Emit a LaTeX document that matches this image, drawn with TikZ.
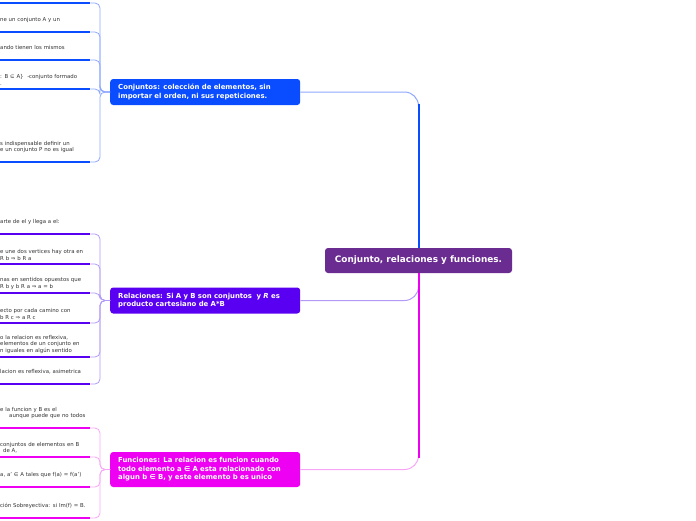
\documentclass[tikz,border=0pt]{standalone}
\usepackage{fontspec}
\setmainfont{DejaVu Sans}

\definecolor{rootc}{HTML}{6A2C91}
\definecolor{conjc}{HTML}{0A4CFF}
\definecolor{conjl}{HTML}{8FA8FF}
\definecolor{relc}{HTML}{5A00F2}
\definecolor{rell}{HTML}{B39AF7}
\definecolor{func}{HTML}{EE00F2}
\definecolor{funl}{HTML}{F7A6F7}

\begin{document}
\begin{tikzpicture}[
    x=1pt, y=-1pt,
    root/.style={fill=rootc, text=white, rounded corners=3pt,
      font=\fontsize{8.9}{10}\selectfont\bfseries,
      minimum width=187pt, minimum height=25pt, inner sep=0pt},
    branch/.style={rounded corners=3pt, text=white, anchor=west,
      font=\fontsize{6.9}{8.6}\selectfont\bfseries, align=left,
      text width=174pt, inner xsep=8pt, inner ysep=4pt, minimum height=26pt},
    leaf/.style={font=\fontsize{5.4}{6.7}\selectfont, text=black!80, align=left,
      anchor=south west, text width=90pt, inner xsep=0pt, inner ysep=3.2pt},
    uline/.style={line width=2.6pt},
    brack/.style={line width=0.8pt, rounded corners=5pt},
    link/.style={line width=1pt, rounded corners=14pt},
    trunk/.style={line width=2pt}
  ]
    \clip (0,0) rectangle (696,520);
    \node[root] (ctr) at (418.5,260.5) {Conjunto, relaciones y funciones.};
    \node[branch, fill=conjc] (conj) at (110,92) {Conjuntos: colección de elementos, sin\\importar el orden, ni sus repeticiones.};
    \node[branch, fill=relc] (rel) at (110,300.5) {Relaciones: Si A y B son conjuntos \ y \textit{R} es\\producto cartesiano de A*B};
    \node[branch, fill=func, minimum height=35pt] (fun) at (110,469.5) {Funciones: La relacion es funcion cuando\\todo elemento a ∈ A esta relacionado con\\algun b ∈ B, y este elemento b es unico};
    % conjuntos
    \node[leaf] (c1) at (0,3) {};
    \node[leaf] (c2) at (0,32) {ne un conjunto A y un\\\mbox{}};
    \node[leaf] (c3) at (0,60) {ando tienen los mismos\\\mbox{}};
    \node[leaf] (c4) at (0,89) {: B ⊆ A\}~ -conjunto formado\\.};
    \node[leaf] (c5) at (0,162) {s indispensable definir un\\e un conjunto P no es igual\\\mbox{}};
    % relaciones
    \node[leaf] (r1) at (0,234) {arte de el y llega a el:\\\mbox{}};
    \node[leaf] (r2) at (0,264) {e une dos vertices hay otra en\\R b ⇒ b R a};
    \node[leaf] (r3) at (0,293) {nas en sentidos opuestos que\\R b y b R a ⇒ a = b};
    \node[leaf] (r4) at (0,323) {ecto por cada camino con\\b R c ⇒ a R c};
    \node[leaf] (r5) at (0,357) {o la relacion es reflexiva,\\elementos de un conjunto en\\n iguales en algún sentido};
    \node[leaf] (r6) at (0,384) {lacion es reflexiva, asimetrica\\\mbox{}};
    % funciones
    \node[leaf] (f1) at (0,428) {e la funcion y B es el\\\hspace*{9pt}aunque puede que no todos\\\mbox{}};
    \node[leaf] (f2) at (0,457) {conjuntos de elementos en B\\\hspace*{3pt}de A,};
    \node[leaf] (f3) at (0,487) {a, a' ∈ A tales que f(a) = f(a')\\\mbox{}};
    \node[leaf] (f4) at (0,518) {ción Sobreyectiva: si Im(f) = B.\\\mbox{}};

    \draw[uline, conjc] (c1.south west) -- (c1.south east);
    \draw[brack, conjl] (c1.south east) -| ([xshift=-10pt]conj.west) -- (conj.west);
    \draw[uline, conjc] (c2.south west) -- (c2.south east);
    \draw[brack, conjl] (c2.south east) -| ([xshift=-10pt]conj.west) -- (conj.west);
    \draw[uline, conjc] (c3.south west) -- (c3.south east);
    \draw[brack, conjl] (c3.south east) -| ([xshift=-10pt]conj.west) -- (conj.west);
    \draw[uline, conjc] (c4.south west) -- (c4.south east);
    \draw[brack, conjl] (c4.south east) -| ([xshift=-10pt]conj.west) -- (conj.west);
    \draw[uline, conjc] (c5.south west) -- (c5.south east);
    \draw[brack, conjl] (c5.south east) -| ([xshift=-10pt]conj.west) -- (conj.west);

    \draw[uline, relc] (r1.south west) -- (r1.south east);
    \draw[brack, rell] (r1.south east) -| ([xshift=-10pt]rel.west) -- (rel.west);
    \draw[uline, relc] (r2.south west) -- (r2.south east);
    \draw[brack, rell] (r2.south east) -| ([xshift=-10pt]rel.west) -- (rel.west);
    \draw[uline, relc] (r3.south west) -- (r3.south east);
    \draw[brack, rell] (r3.south east) -| ([xshift=-10pt]rel.west) -- (rel.west);
    \draw[uline, relc] (r4.south west) -- (r4.south east);
    \draw[brack, rell] (r4.south east) -| ([xshift=-10pt]rel.west) -- (rel.west);
    \draw[uline, relc] (r5.south west) -- (r5.south east);
    \draw[brack, rell] (r5.south east) -| ([xshift=-10pt]rel.west) -- (rel.west);
    \draw[uline, relc] (r6.south west) -- (r6.south east);
    \draw[brack, rell] (r6.south east) -| ([xshift=-10pt]rel.west) -- (rel.west);

    \draw[uline, func] (f1.south west) -- (f1.south east);
    \draw[brack, funl] (f1.south east) -| ([xshift=-10pt]fun.west) -- (fun.west);
    \draw[uline, func] (f2.south west) -- (f2.south east);
    \draw[brack, funl] (f2.south east) -| ([xshift=-10pt]fun.west) -- (fun.west);
    \draw[uline, func] (f3.south west) -- (f3.south east);
    \draw[brack, funl] (f3.south east) -| ([xshift=-10pt]fun.west) -- (fun.west);
    \draw[uline, func] (f4.south west) -- (f4.south east);
    \draw[brack, funl] (f4.south east) -| ([xshift=-10pt]fun.west) -- (fun.west);

    % root links
    \draw[link, conjl] (conj.east) -| (ctr.north);
    \draw[trunk, conjc] ([yshift=-12pt]ctr.north |- conj.east) -- (ctr.north);
    \draw[link, rell] (rel.east) -| (ctr.south);
    \draw[link, funl] (fun.east) -| (ctr.south);
    \draw[trunk, func] ([yshift=12pt]ctr.south |- fun.east) -- (ctr.south);
  \end{tikzpicture}
\end{document}
